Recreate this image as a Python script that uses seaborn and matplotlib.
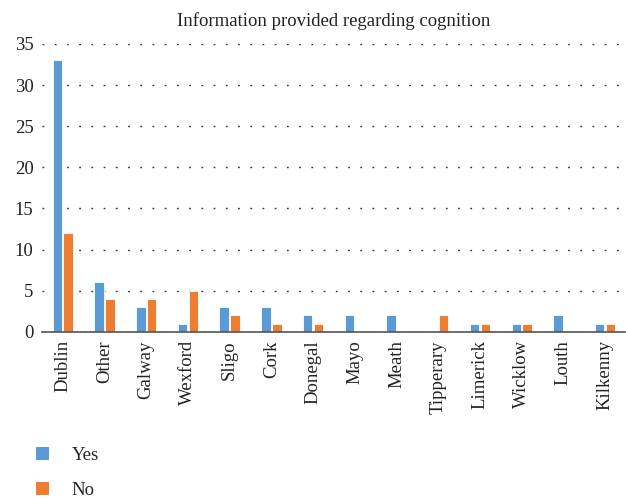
import matplotlib
matplotlib.use("Agg")
import matplotlib.pyplot as plt
import seaborn as sns
import pandas as pd
from matplotlib.patches import Patch

categories = ["Dublin", "Other", "Galway", "Wexford", "Sligo", "Cork", "Donegal",
              "Mayo", "Meath", "Tipperary", "Limerick", "Wicklow", "Louth", "Kilkenny"]
yes_values = [33, 6, 3, 1, 3, 3, 2, 2, 2, 0, 1, 1, 2, 1]
no_values = [12, 4, 4, 5, 2, 1, 1, 0, 0, 2, 1, 1, 0, 1]
series_names = ["Yes", "No"]
title = "Information provided regarding cognition"
yticks = [0, 5, 10, 15, 20, 25, 30, 35]

df = pd.DataFrame({
    "County": categories * 2,
    "Value": yes_values + no_values,
    "Series": [series_names[0]] * len(categories) + [series_names[1]] * len(categories),
})

sns.set_style("white")
plt.rcParams["font.family"] = ["Liberation Serif", "DejaVu Serif"]

FS = 13.5
fig = plt.figure(figsize=(6.26, 4.99), dpi=100)
ax = fig.add_axes([0.067, 0.335, 0.933, 0.577])

palette = {"Yes": "#5B9BD5", "No": "#ED7D31"}
sns.barplot(data=df, x="County", y="Value", hue="Series", palette=palette,
            saturation=1, width=0.52, gap=0.12, ax=ax, legend=False,
            edgecolor="white", linewidth=0.6)

ax.set_ylim(0, 35)
ax.set_xlim(-0.5, len(categories) - 0.5)
ax.set_yticks(yticks)
ax.set_yticklabels([str(t) for t in yticks], fontsize=FS, color="#222222")
ax.set_xticks(range(len(categories)))
ax.set_xticklabels(categories, rotation=90, fontsize=FS, color="#222222")
ax.set_xlabel("")
ax.set_ylabel("")
ax.yaxis.grid(True, linestyle=(0, (1.3, 7.5)), color="#333333", linewidth=1.0)
ax.set_axisbelow(True)
for s in ["left", "right", "top"]:
    ax.spines[s].set_visible(False)
ax.spines["bottom"].set_color("#555555")
ax.spines["bottom"].set_linewidth(1.2)
ax.tick_params(axis="both", length=0, pad=6)
ax.set_title(title, fontsize=FS, color="#222222", pad=13)

handles = [Patch(facecolor=palette[n], edgecolor="none") for n in series_names]
fig.legend(handles, series_names, loc="upper left", bbox_to_anchor=(0.058, 0.104),
           frameon=False, fontsize=FS, handlelength=0.7, handleheight=0.7,
           labelspacing=0.95, handletextpad=1.2, borderaxespad=0, borderpad=0)

fig.savefig("out.png", dpi=100)
